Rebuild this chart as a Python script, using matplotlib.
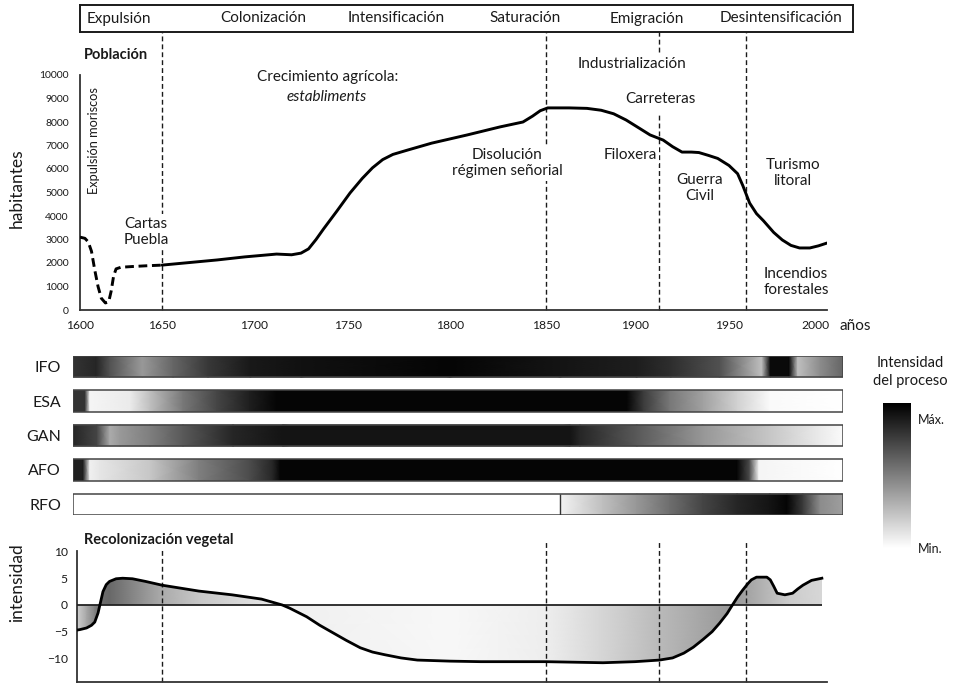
import numpy as np
import matplotlib
matplotlib.use("Agg")
import matplotlib.pyplot as plt
from matplotlib.colors import LinearSegmentedColormap
from matplotlib.patches import Rectangle

plt.rcParams['font.family'] = ['Lato', 'DejaVu Sans']
INK = '#1a1a1a'

# ------------------------------------------------------------------ data
phases = ['Expulsión', 'Colonización', 'Intensificación', 'Saturación',
          'Emigración', 'Desintensificación']
phase_label_years = [1624, 1705, 1773.5, 1839, 1906.5, 1980]
boundary_years = [1650, 1850, 1913, 1960]
year_ticks = [1600, 1650, 1700, 1750, 1800, 1850, 1900, 1950, 2000]
documented_from = 1650

pop_years = [1600, 1603, 1605, 1607, 1609, 1611, 1613, 1615.5, 1617.5, 1619,
             1620.5, 1622, 1625, 1632, 1640, 1650,
             1665, 1680, 1695, 1705, 1712, 1720, 1725, 1729, 1733, 1737,
             1744, 1751, 1757, 1762, 1767, 1772, 1779, 1791, 1809, 1826,
             1838, 1843, 1847, 1851, 1863, 1873, 1881, 1888, 1895, 1902,
             1908, 1915, 1920, 1925, 1930, 1934, 1939, 1944, 1950, 1955,
             1958, 1962, 1966, 1970, 1976, 1981, 1986, 1991, 1997, 2002, 2007]
pop_vals = [3100, 3050, 2900, 2500, 1700, 1000, 500, 300, 350, 800,
            1450, 1750, 1820, 1850, 1880, 1910,
            2020, 2130, 2260, 2330, 2380, 2350, 2420, 2600, 3000, 3450,
            4200, 4980, 5600, 6050, 6400, 6620, 6800, 7100, 7450, 7790,
            8000, 8250, 8480, 8600, 8600, 8580, 8500, 8350, 8085, 7750,
            7450, 7230, 6950, 6720, 6720, 6700, 6580, 6450, 6150, 5800,
            5300, 4550, 4100, 3800, 3300, 2980, 2750, 2640, 2640, 2730, 2850]

veg_years = [1598, 1600, 1604, 1607, 1609, 1611, 1612.5, 1614, 1616, 1618,
             1622, 1626, 1632, 1640, 1650, 1670, 1688, 1704, 1710, 1715,
             1719, 1728, 1735, 1742, 1749, 1756, 1762, 1768, 1776, 1784,
             1800, 1816, 1850, 1882, 1900, 1913, 1920, 1926, 1931, 1936,
             1941, 1945, 1949, 1952, 1955, 1958, 1961, 1963, 1966, 1972,
             1974, 1976, 1978, 1982.5, 1987, 1990, 1993, 1998, 2004]
veg_vals = [-4.7, -4.6, -4.3, -3.8, -3.2, -1.5, 0.5, 2.5, 3.8, 4.4,
            4.9, 5.0, 4.9, 4.4, 3.7, 2.6, 1.9, 1.1, 0.5, 0.0,
            -0.6, -2.2, -3.8, -5.2, -6.6, -8.0, -8.8, -9.3, -9.9, -10.3,
            -10.5, -10.6, -10.6, -10.8, -10.6, -10.3, -9.9, -9.0, -7.9, -6.5,
            -5.0, -3.4, -1.6, 0.0, 1.5, 2.8, 4.0, 4.7, 5.2, 5.2,
            4.7, 3.5, 2.2, 1.9, 2.2, 3.0, 3.7, 4.6, 5.0]
# shading of the vegetation area (0 = white, 1 = black)
veg_shade_years = [1598, 1609, 1612, 1618, 1650, 1670, 1703, 1719, 1800,
                   1850, 1880, 1913, 1952, 1968, 1985, 2004]
veg_shade_vals = [0.18, 0.49, 0.57, 0.59, 0.33, 0.22, 0.12, 0.06, 0.03,
                  0.07, 0.16, 0.27, 0.41, 0.31, 0.20, 0.16]

process_names = ['IFO', 'ESA', 'GAN', 'AFO', 'RFO']
ifo_years = [1596, 1610, 1618, 1638, 1656, 1675, 1698, 1725, 1800, 1858, 1901,
             1919, 1945, 1969, 1974, 1985, 1990, 2003, 2016]
ifo_vals = [0.80, 0.85, 0.68, 0.40, 0.60, 0.78, 0.90, 0.93, 0.98, 0.92, 0.88,
            0.82, 0.68, 0.25, 0.96, 0.96, 0.25, 0.45, 0.60]
esa_years = [1596, 1603, 1606, 1630.5, 1642.7, 1661.4, 1680, 1697.8, 1712,
             1895.5, 1904.3, 1918.6, 1936.2, 1954.7, 1973.8, 2016]
esa_vals = [0.80, 0.80, 0.04, 0.08, 0.25, 0.53, 0.73, 0.88, 0.98,
            0.98, 0.77, 0.53, 0.37, 0.18, 0.02, 0.0]
gan_years = [1596, 1610.4, 1618.3, 1624.4, 1642.7, 1661.4, 1688.6, 1715.4,
             1863.5, 1869, 1901, 1936, 1974, 2003, 2016]
gan_vals = [0.85, 0.73, 0.33, 0.40, 0.50, 0.65, 0.85, 0.92,
            0.92, 0.85, 0.65, 0.41, 0.22, 0.08, 0.02]
afo_years = [1596, 1602, 1606, 1612, 1642.7, 1670, 1697.8, 1710, 1714,
             1954.7, 1962, 1967.4, 2016]
afo_vals = [0.88, 0.88, 0.06, 0.10, 0.22, 0.50, 0.70, 0.85, 0.98,
            0.98, 0.70, 0.04, 0.0]
rfo_split = 1858
rfo_years = [1596, 1858, 1858, 1882, 1901, 1918.6, 1936, 1954.7, 1973.8,
             1983.7, 1993, 2003, 2016]
rfo_vals = [0.0, 0.0, 0.05, 0.25, 0.41, 0.57, 0.73, 0.85, 0.92,
            0.98, 0.77, 0.45, 0.38]
process_years = [ifo_years, esa_years, gan_years, afo_years, rfo_years]
process_vals = [ifo_vals, esa_vals, gan_vals, afo_vals, rfo_vals]

# ------------------------------------------------------------------ layout
W, H = 955, 684
TICK_PX = [80, 162, 254, 348, 450, 546, 635, 729, 815]   # drawn tick spacing
ANCHOR_YEARS = [1500] + year_ticks + [2100]
ANCHOR_PX = [80 - 164] + TICK_PX + [815 + 172]


def fwd(y):
    return np.interp(np.asarray(y, dtype=float), ANCHOR_YEARS, ANCHOR_PX)


def inv(p):
    return np.interp(np.asarray(p, dtype=float), ANCHOR_PX, ANCHOR_YEARS)


cmap = LinearSegmentedColormap.from_list('wb', ['#ffffff', '#000000'])

fig = plt.figure(figsize=(W / 100, H / 100), dpi=100)
fig.patch.set_facecolor('white')


def make_ax(x0, x1, top_px, bottom_px):
    left = float(fwd(x0)) / W
    right = float(fwd(x1)) / W
    ax = fig.add_axes([left, 1 - bottom_px / H, right - left,
                       (bottom_px - top_px) / H])
    ax.set_xscale('function', functions=(fwd, inv))
    ax.set_xlim(x0, x1)
    return ax


dash_kw = dict(color=INK, lw=1.0, ls=(0, (3.5, 2.2)), clip_on=False, zorder=2)
txt_box = dict(facecolor='white', edgecolor='none', pad=1.5)

# ------------------------------------------------------------------ banner
axb = make_ax(1600, 2022, 5, 32)
axb.set_ylim(0, 1)
axb.set_xticks([])
axb.set_yticks([])
for s in axb.spines.values():
    s.set_linewidth(1.4)
    s.set_color(INK)
for lab, yr in zip(phases, phase_label_years):
    axb.text(yr, 0.5, lab, ha='center', va='center', fontsize=11, color=INK)

# ------------------------------------------------------------------ population
axp = make_ax(1600, 2007, 75, 310)
axp.set_ylim(0, 10000)
axp.set_yticks(range(0, 10001, 1000))
axp.set_xticks(year_ticks)
axp.tick_params(axis='y', length=0, pad=8, labelsize=7.5, labelcolor=INK)
axp.tick_params(axis='x', length=0, pad=7, labelsize=8.7, labelcolor=INK)
for s in ['top', 'right']:
    axp.spines[s].set_visible(False)
for s in ['left', 'bottom']:
    axp.spines[s].set_linewidth(1.3)
    axp.spines[s].set_color('#333333')

top_frac = (310 - 32) / (310 - 75)
for yr in boundary_years:
    if yr == 1913:
        axp.axvline(yr, ymin=0, ymax=(310 - 115) / 235, **dash_kw)
        axp.axvline(yr, ymin=(310 - 52) / 235, ymax=top_frac, **dash_kw)
    else:
        axp.axvline(yr, ymin=0, ymax=top_frac, **dash_kw)

years_arr = np.array(pop_years)
vals_arr = np.array(pop_vals)
early = years_arr <= documented_from
late = years_arr >= documented_from
axp.plot(years_arr[early], vals_arr[early], color='black', lw=2.1,
         ls=(0, (3, 1.6)), zorder=4)
axp.plot(years_arr[late], vals_arr[late], color='black', lw=2.1, zorder=4,
         solid_joinstyle='round', solid_capstyle='round')

axp.text(1602.4, 10850, 'Población', fontsize=10.5, fontweight='bold',
         ha='left', va='center', color=INK, clip_on=False)
axp.text(1608.5, 7190, 'Expulsión moriscos', rotation=90, fontsize=9.2,
         ha='center', va='center', color=INK)
annots = [
    ('Cartas\nPuebla', 1640.2, 3320, 'normal'),
    ('Crecimiento agrícola:', 1739.4, 9915, 'normal'),
    ('establiments', 1738.8, 9064, 'italic'),
    ('Disolución\nrégimen señorial', 1829.7, 6255, 'normal'),
    ('Industrialización', 1898.3, 10468, 'normal'),
    ('Carreteras', 1913.3, 8979, 'normal'),
    ('Filoxera', 1897.2, 6596, 'normal'),
    ('Guerra\nCivil', 1934.6, 5191, 'normal'),
    ('Turismo\nlitoral', 1987.2, 5830, 'normal'),
    ('Incendios\nforestales', 1989, 1191, 'normal'),
]
for t, x, y, st in annots:
    axp.text(x, y, t, ha='center', va='center', fontsize=11, style=st,
             color=INK, linespacing=1.25, bbox=txt_box, zorder=3,
             clip_on=False)
axp.text(2014.5, -690, 'años', ha='left', va='center', fontsize=11,
         color=INK, clip_on=False)
fig.text(17 / W, 1 - 188 / H, 'habitantes', rotation=90, ha='center',
         va='center', fontsize=12.5, color=INK)

# ------------------------------------------------------------------ process bands
axf = make_ax(1596, 2016, 356, 515)
half = 0.305
axf.set_ylim(4 + half, -half)
for i, (yrs, vals) in enumerate(zip(process_years, process_vals)):
    X = np.array([yrs, yrs], dtype=float)
    Y = np.array([[i - half] * len(yrs), [i + half] * len(yrs)])
    C = np.array([vals, vals], dtype=float)
    axf.pcolormesh(X, Y, C, shading='gouraud', cmap=cmap, vmin=0, vmax=1,
                   zorder=1)
    axf.add_patch(Rectangle((1596, i - half), 2016 - 1596, 2 * half,
                            fill=False, edgecolor='#444444', lw=1.1, zorder=3))
axf.vlines(rfo_split, 4 - half, 4 + half, color='#333333', lw=1.0, zorder=3)
axf.set_yticks(range(len(process_names)))
axf.set_yticklabels(process_names)
axf.set_xticks([])
axf.tick_params(axis='y', length=0, pad=9, labelsize=11.5, labelcolor=INK)
for s in axf.spines.values():
    s.set_visible(False)

# colour key
cax = fig.add_axes([883 / W, 1 - 548 / H, 28 / W, 145 / H])
cax.imshow(np.linspace(1, 0, 256)[:, None], aspect='auto', cmap=cmap,
           vmin=0, vmax=1, extent=[0, 1, 0, 1])
cax.set_axis_off()
fig.text(910 / W, 1 - 372 / H, 'Intensidad\ndel proceso', ha='center',
         va='center', fontsize=10.5, color=INK, linespacing=1.3)
fig.text(918 / W, 1 - 420 / H, 'Máx.', ha='left', va='center', fontsize=9,
         color=INK)
fig.text(918 / W, 1 - 549 / H, 'Min.', ha='left', va='center', fontsize=9,
         color=INK)

# ------------------------------------------------------------------ vegetation
axv = make_ax(1598, 2007, 551, 682)
axv.set_ylim(-14.4, 10.09)
axv.set_yticks([-10, -5, 0, 5, 10])
axv.set_xticks([])
axv.tick_params(axis='y', length=0, pad=6.5, labelsize=8.7, labelcolor=INK)
for s in ['top', 'right']:
    axv.spines[s].set_visible(False)
for s in ['left', 'bottom']:
    axv.spines[s].set_linewidth(1.3)
    axv.spines[s].set_color('#333333')

fb = axv.fill_between(veg_years, veg_vals, 0, facecolor='none',
                      edgecolor='none')
n = len(veg_shade_years)
mesh = axv.pcolormesh(np.array([veg_shade_years] * 2, dtype=float),
                      np.array([[-14.0] * n, [10.0] * n]),
                      np.array([veg_shade_vals] * 2, dtype=float),
                      shading='gouraud', cmap=cmap, vmin=0, vmax=1, zorder=1)
mesh.set_clip_path(fb.get_paths()[0], axv.transData)
axv.hlines(0, veg_years[0], veg_years[-1], color='#222222', lw=1.3, zorder=3)
axv.plot(veg_years, veg_vals, color='black', lw=2.0, zorder=4,
         solid_joinstyle='round')
for yr in boundary_years:
    axv.axvline(yr, ymin=0, ymax=(682 - 540) / (682 - 551), **dash_kw)
axv.text(1602.4, 12.1, 'Recolonización vegetal', fontsize=10.5,
         fontweight='bold', ha='left', va='center', color=INK, bbox=txt_box,
         zorder=5, clip_on=False)
fig.text(17 / W, 1 - 583 / H, 'intensidad', rotation=90, ha='center',
         va='center', fontsize=12.5, color=INK)

fig.savefig('out.png', dpi=100, facecolor='white')
